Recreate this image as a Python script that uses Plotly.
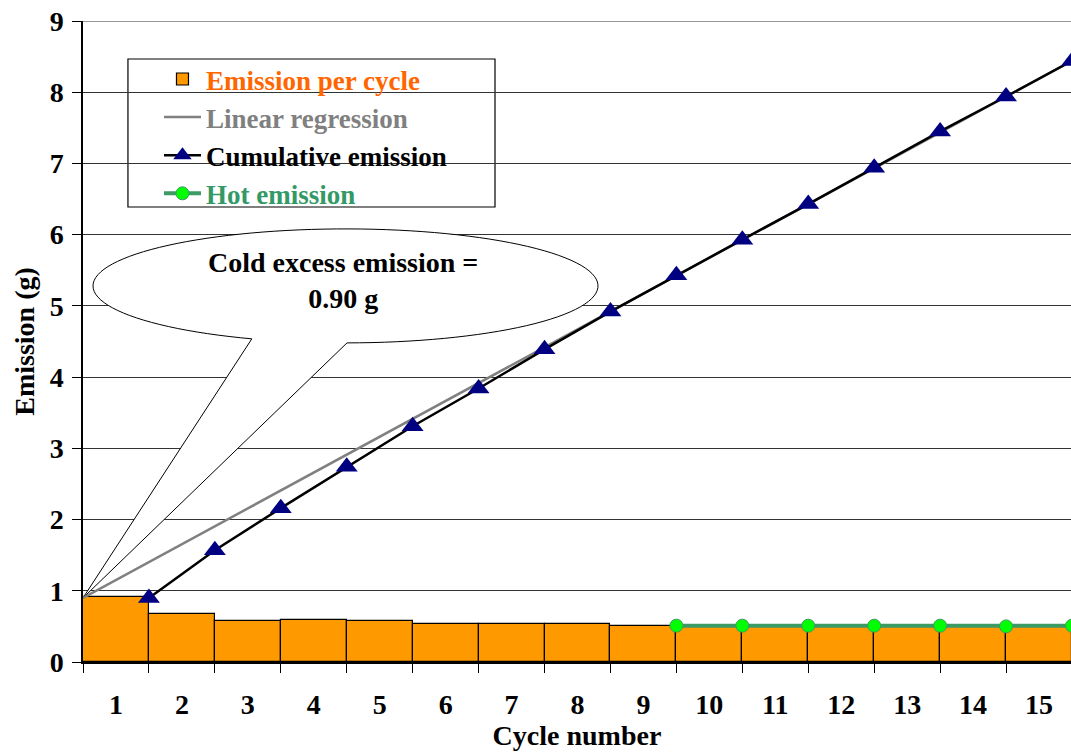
import numpy as np
import plotly.graph_objects as go

# ---------------- data ----------------
cycles = list(range(1, 16))
emission_per_cycle = [0.91, 0.67, 0.58, 0.59, 0.57, 0.53, 0.54, 0.54, 0.51,
                      0.50, 0.50, 0.50, 0.50, 0.49, 0.49]
cum_x = [1.5, 2.5, 3.5, 4.5, 5.5, 6.5, 7.5, 8.5, 9.5, 10.5, 11.5, 12.5, 13.5, 14.5, 15.5]
cumulative_emission = [0.90, 1.57, 2.16, 2.74, 3.31, 3.84, 4.39, 4.92, 5.43,
                       5.93, 6.43, 6.94, 7.45, 7.94, 8.44]
regression_x = [0.5, 15.5]
regression_y = [0.90, 8.44]
hot_x = [9.5, 10.5, 11.5, 12.5, 13.5, 14.5, 15.5]
hot_emission = [0.51, 0.51, 0.51, 0.51, 0.51, 0.50, 0.51]
cold_excess = 0.90
y_ticks = list(range(0, 10))
y_max = 9

FONT = "Liberation Serif"
FS = 28
LFS = 27

fig = go.Figure()
fig.add_trace(go.Bar(
    x=cycles, y=emission_per_cycle, width=1,
    marker=dict(color="#FF9900", line=dict(color="black", width=1.2)),
    name="<span style='color:#FF6600'>Emission per cycle</span>", legendgroup="a"))
fig.add_trace(go.Scatter(
    x=regression_x, y=regression_y, mode="lines",
    line=dict(color="#808080", width=2.5),
    name="<span style='color:#808080'>Linear regression</span>", legendgroup="b"))
fig.add_trace(go.Scatter(
    x=cum_x, y=cumulative_emission, mode="lines+markers",
    line=dict(color="black", width=2.5),
    marker=dict(symbol="triangle-up", size=19, color="#000080"),
    name="<span style='color:#000000'>Cumulative emission</span>", legendgroup="c"))
fig.add_trace(go.Scatter(
    x=hot_x, y=hot_emission, mode="lines+markers",
    line=dict(color="#3C9A64", width=4),
    marker=dict(symbol="circle", size=13, color="#00FF00",
                line=dict(color="#3C9A64", width=1)),
    name="<span style='color:#339966'>Hot emission</span>", legendgroup="d"))

# top gridline (plotly drops a gridline that sits exactly on the plot edge)
fig.add_shape(type="line", xref="paper", yref="y", x0=0, x1=1, y0=y_max, y1=y_max,
              line=dict(color="#333333", width=1), layer="between")

# ---------------- callout (pixel offsets from the tip) ----------------
cx, cy, rx, ry = 262.5, 312.0, 252.5, 57.0
t_start = np.arctan2(-1.0, 0.006)
t_end = np.arctan2(-0.9286, -0.371) + 2 * np.pi
ts = np.linspace(t_start, t_end, 120)
pts = [(cx + rx * np.cos(t), cy + ry * np.sin(t)) for t in ts]
path = "M " + " L ".join(f"{px:.2f},{py:.2f}" for px, py in pts) + " L 0,0 Z"
fig.add_shape(type="path", path=path, xref="x", yref="y",
              xsizemode="pixel", ysizemode="pixel",
              xanchor=0.5, yanchor=cold_excess,
              line=dict(color="black", width=1), fillcolor="white", layer="between")
fig.add_annotation(x=0.5, y=cold_excess, xref="x", yref="y",
                   xshift=260, yshift=317, showarrow=False,
                   text=f"Cold excess emission =<br>{cold_excess:.2f} g",
                   font=dict(family=FONT, size=FS, color="black", weight="bold"),
                   align="center")

# legend frame
fig.add_shape(type="rect", xref="paper", yref="paper",
              x0=0.0455, x1=0.417, y0=0.7098, y1=0.9407,
              line=dict(color="black", width=1.2), fillcolor="white", layer="between")

fig.update_layout(
    width=1071, height=753,
    margin=dict(l=83, r=0, t=21, b=91, autoexpand=False),
    paper_bgcolor="white", plot_bgcolor="white",
    bargap=0,
    font=dict(family=FONT, size=FS, color="black", weight="bold"),
    showlegend=True,
    legend=dict(x=0.0769, y=0.947, xanchor="left", yanchor="top",
                bgcolor="rgba(0,0,0,0)", borderwidth=0,
                font=dict(family=FONT, size=LFS, weight="bold"),
                itemwidth=37, tracegroupgap=0, traceorder="normal"),
    xaxis=dict(range=[0.5, 15.485], tickmode="array", tickvals=cycles,
               ticktext=[str(c) for c in cycles], ticks="",
               showgrid=False, zeroline=False, showline=True,
               linecolor="black", linewidth=1.5, automargin=False,
               ticklabelstandoff=17, ticklabeloverflow="allow",
               minor=dict(tickmode="linear", tick0=0.5, dtick=1, ticks="outside",
                          ticklen=9, tickcolor="black", tickwidth=1, showgrid=False),
               title=dict(text="Cycle number", standoff=0,
                          font=dict(family=FONT, size=FS, weight="bold"))),
    yaxis=dict(range=[0, y_max], tickmode="array", tickvals=y_ticks,
               ticks="outside", ticklen=9, tickcolor="black",
               showgrid=True, gridcolor="#333333", gridwidth=1,
               zeroline=False, showline=True, linecolor="black", linewidth=1.5,
               automargin=False, ticklabelstandoff=3, ticklabeloverflow="allow",
               title=dict(text="Emission (g)", standoff=7,
                          font=dict(family=FONT, size=FS, weight="bold"))),
)

# remove the page's default body margin so the figure fills the window exactly
fig.write_html("out.html",
               config={"displayModeBar": False},
               post_script="document.body.style.margin='0';document.body.style.overflow='hidden';")
